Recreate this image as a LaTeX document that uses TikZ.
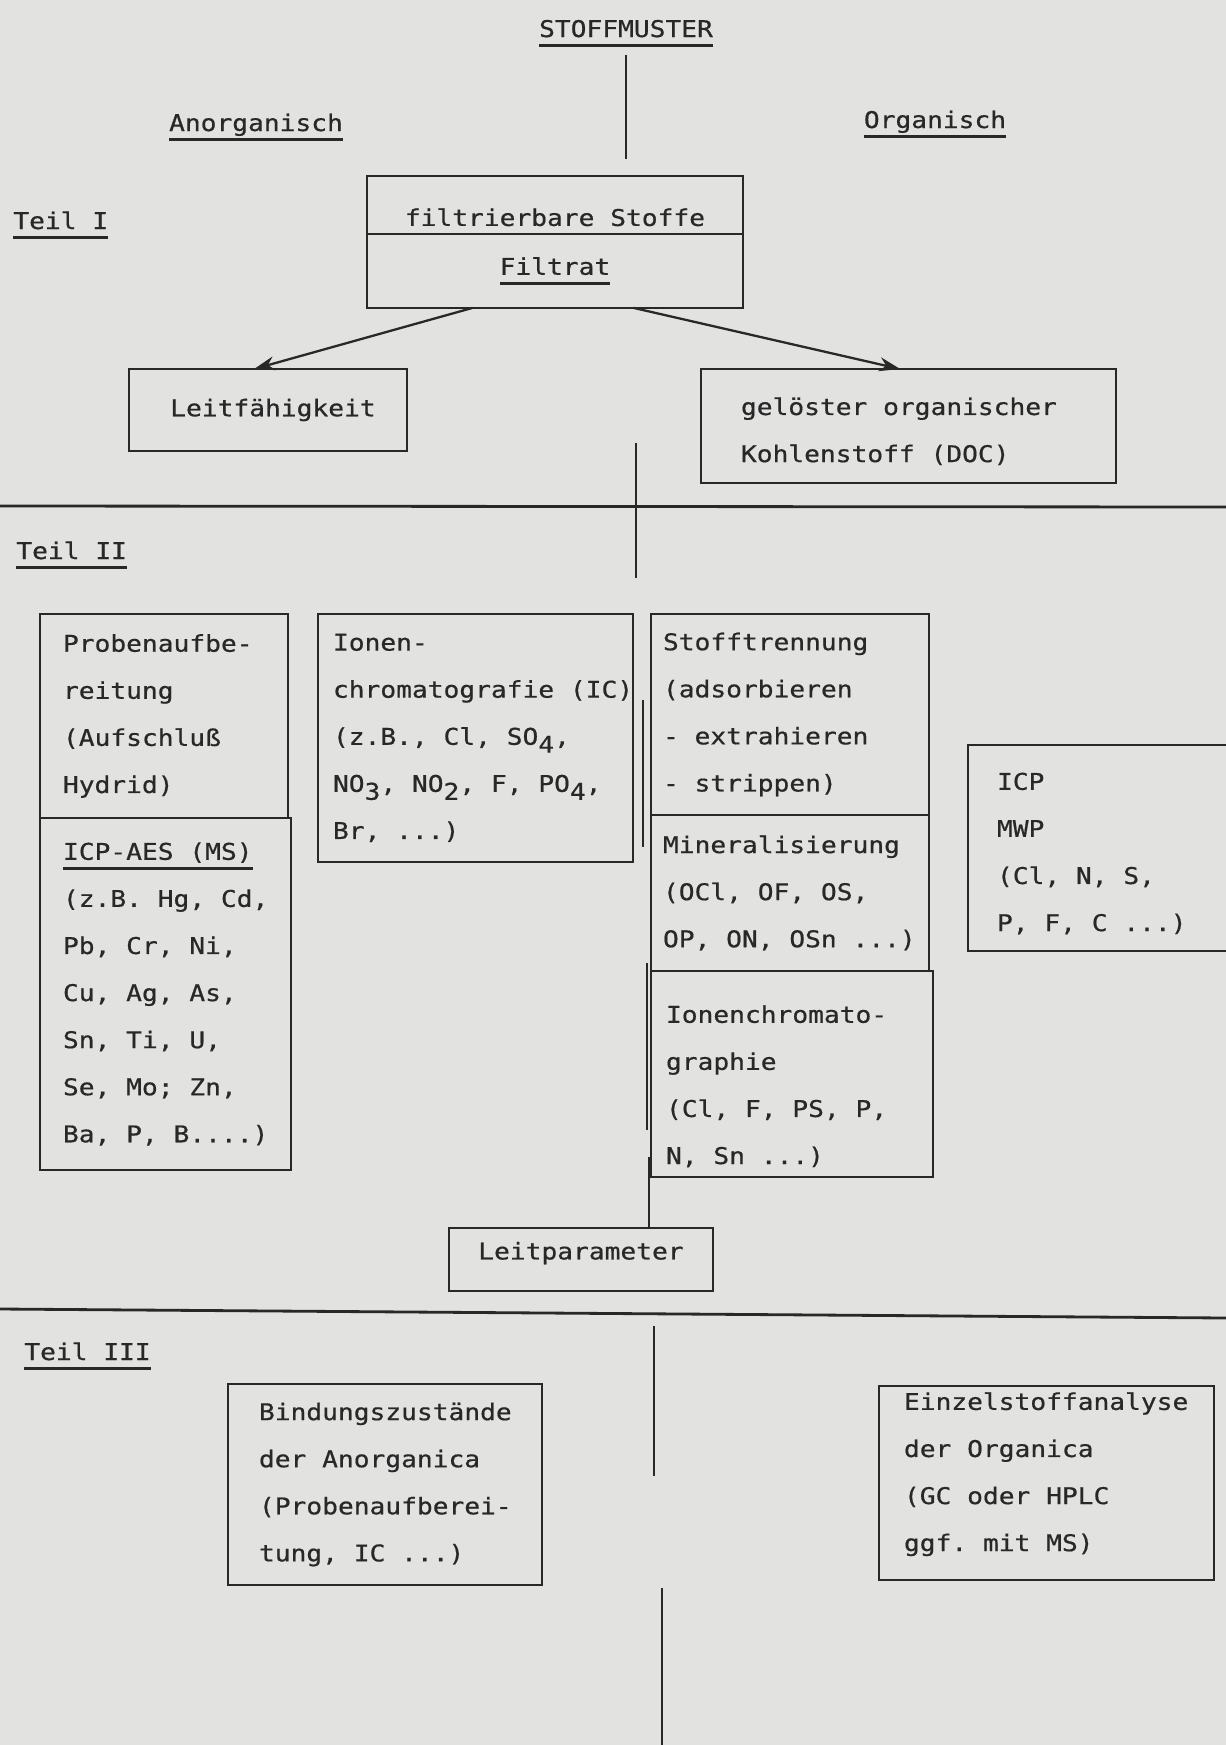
\documentclass[tikz,border=0pt]{standalone}
\usepackage{fontspec}
\setmonofont[FakeStretch=1.14, FakeBold=0.6]{DejaVu Sans Mono}
\usepackage{tikz}
\usetikzlibrary{arrows.meta, positioning, calc}

\definecolor{papier}{RGB}{226,226,224}
\definecolor{tinte}{RGB}{40,40,40}

\newcommand{\schreib}{\ttfamily\fontsize{13.1}{26.8}\selectfont}
\newcommand{\festraum}{\spaceskip=\fontcharwd\font`\a\relax\xspaceskip=\spaceskip}
\newsavebox{\ulbox}
\newcommand{\unterstr}[1]{\sbox{\ulbox}{#1}\rlap{\rule[-5.7pt]{\wd\ulbox}{1.5pt}}\usebox{\ulbox}}
\newcommand{\tief}[1]{\raisebox{-4.5pt}{#1}}

\begin{document}
\begin{tikzpicture}[
    x=0.02cm, y=-0.02cm,
    every node/.style={font=\schreib, text=tinte, execute at begin node=\festraum},
    kasten/.style={draw=tinte, line width=1.5pt, rectangle, anchor=north west, inner ysep=0pt, outer sep=0pt},
    titel/.style={inner sep=0pt},
    linie/.style={draw=tinte, line width=1.3pt},
    trenn/.style={draw=tinte, line width=1.6pt},
    arrow/.style={linie, -{Stealth[length=12pt, width=8pt]}}
]
\fill[papier] (0,0) rectangle (1226,1745);
\useasboundingbox (0,0) rectangle (1226,1745);

% Teil I
\node[titel, anchor=base] (muster) at (626,37) {\unterstr{STOFFMUSTER}};
\node[titel, anchor=base] (anorg) at (256,131) {\unterstr{Anorganisch}};
\node[titel, anchor=base] (org) at (935,128) {\unterstr{Organisch}};
\node[titel, anchor=base west] (teil1) at (13,229) {\unterstr{Teil I}};

\node[kasten, minimum width=7.52cm, minimum height=1.16cm, align=center, text height=24pt] (filt) at (367,176) {filtrierbare Stoffe};
\node[kasten, minimum width=7.52cm, minimum height=1.48cm, align=center, below=0pt of filt] (filtrat) {\unterstr{Filtrat}};
\node[kasten, minimum width=5.56cm, minimum height=1.64cm, align=center] (leit) at (129,369) {\hspace*{0.2cm}Leitfähigkeit};
\node[kasten, minimum width=8.30cm, minimum height=2.28cm, text width=6.70cm, inner xsep=0.8cm, text height=16pt] (doc) at (701,369) {gelöster organischer\\Kohlenstoff (DOC)};

\draw[linie, shorten <=0.16cm, shorten >=0.34cm] (muster.south) -- (muster.south |- filt.north);
\draw[arrow] ($(filtrat.south west)!0.28!(filtrat.south east)$) -- ($(leit.north west)!0.45!(leit.north east)$);
\draw[arrow] ($(filtrat.south west)!0.71!(filtrat.south east)$) -- ($(doc.north west)!0.48!(doc.north east)$);

\coordinate (t1a) at (636,443);
\coordinate (t1b) at (636,578);
\draw[linie] (t1a) -- (t1b);

\coordinate (sep1l) at (0,506);
\coordinate (sep1r) at (1226,507);
\draw[trenn] (sep1l) -- (sep1r);

% Teil II
\node[titel, anchor=base west] (teil2) at (16,559) {\unterstr{Teil II}};

\node[kasten, minimum width=4.96cm, minimum height=4.08cm, text width=4.04cm, inner xsep=0.46cm] (proben) at (40,614) {Probenaufbe-\\reitung\\(Aufschluß\\Hydrid)};
\node[kasten, minimum width=5.02cm, minimum height=7.04cm, text width=4.10cm, inner xsep=0.46cm, below=0pt of proben.south west, anchor=north west] (icpaes) {\unterstr{ICP-AES (MS)}\\\mbox{(z.B. Hg, Cd,}\\Pb, Cr, Ni,\\Cu, Ag, As,\\Sn, Ti, U,\\Se, Mo; Zn,\\\mbox{Ba, P, B....)}};

\node[kasten, minimum width=6.30cm, minimum height=4.96cm, text width=5.70cm, inner xsep=0.30cm] (ionen) at (318,614) {Ionen-\\\mbox{chromatografie (IC)}\\(z.B., Cl, SO\tief{4},\\NO\tief{3}, NO\tief{2}, F, PO\tief{4},\\Br, ...)};

\node[kasten, minimum width=5.56cm, minimum height=4.02cm, text width=5.08cm, inner xsep=0.24cm] (stoff) at (651,614) {Stofftrennung\\(adsorbieren\\- extrahieren\\- strippen)};
\node[kasten, minimum width=5.56cm, minimum height=3.12cm, text width=5.08cm, inner xsep=0.24cm, below=0pt of stoff] (mineral) {Mineralisierung\\(OCl, OF, OS,\\\mbox{OP, ON, OSn ...)}};
\node[kasten, minimum width=5.64cm, minimum height=4.12cm, text width=5.04cm, inner xsep=0.30cm, text height=24pt, below=0pt of mineral.south west, anchor=north west] (ionchr) {Ionenchromato-\\graphie\\(Cl, F, PS, P,\\N, Sn ...)};

\node[kasten, minimum width=5.60cm, minimum height=4.12cm, text width=4.44cm, inner xsep=0.58cm, text height=16pt] (icp) at (968,745) {ICP\\MWP\\(Cl, N, S,\\P, F, C ...)};

\node[kasten, minimum width=5.28cm, minimum height=1.26cm, align=center, text depth=10pt] (lp) at (449,1228) {Leitparameter};

\coordinate (s1a) at (643,700);
\coordinate (s1b) at (643,847);
\coordinate (s2a) at (647,963);
\coordinate (s2b) at (647,1130);
\coordinate (s3a) at (649,1157);
\draw[linie] (s1a) -- (s1b);
\draw[linie] (s2a) -- (s2b);
\draw[linie] (s3a) -- (s3a |- lp.north);

\coordinate (sep2l) at (0,1309);
\coordinate (sep2r) at (1226,1318);
\draw[trenn] (sep2l) -- (sep2r);

% Teil III
\node[titel, anchor=base west] (teil3) at (24,1360) {\unterstr{Teil III}};

\node[kasten, minimum width=6.28cm, minimum height=4.02cm, text width=5.04cm, inner xsep=0.62cm] (bind) at (228,1384) {Bindungszustände\\der Anorganica\\(Probenaufberei-\\tung, IC ...)};
\node[kasten, minimum width=6.70cm, minimum height=3.88cm, text width=5.70cm, inner xsep=0.50cm, text height=0pt] (einzel) at (879,1386) {Einzelstoffanalyse\\der Organica\\(GC oder HPLC\\ggf. mit MS)};

\coordinate (u1a) at (654,1326);
\coordinate (u1b) at (654,1476);
\coordinate (u2a) at (662,1588);
\coordinate (u2b) at (662,1745);
\draw[linie] (u1a) -- (u1b);
\draw[linie] (u2a) -- (u2b);

\end{tikzpicture}
\end{document}
